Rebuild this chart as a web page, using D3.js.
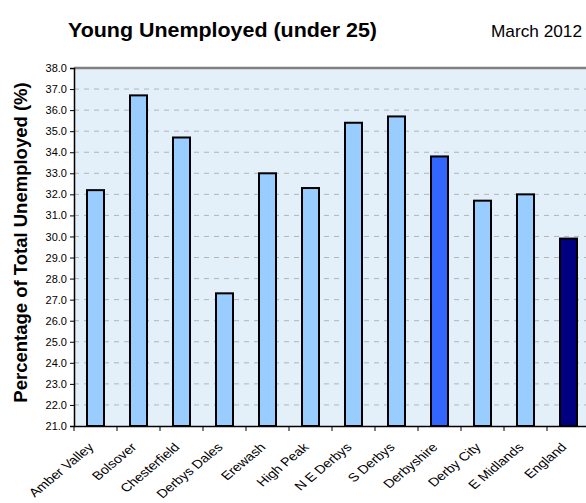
<!DOCTYPE html>
<html>
<head>
<meta charset="utf-8">
<script src="https://cdn.jsdelivr.net/npm/d3@7"></script>
<style>
body { margin: 0; background: #fff; }
svg { font-family: "Liberation Sans", Arial, sans-serif; }
</style>
</head>
<body>
<script>
var categories = ["Amber Valley", "Bolsover", "Chesterfield", "Derbys Dales", "Erewash", "High Peak",
    "N E Derbys", "S Derbys", "Derbyshire", "Derby City", "E Midlands", "England"];
var values = [32.2, 36.7, 34.7, 27.3, 33.0, 32.3, 35.4, 35.7, 33.8, 31.7, 32.0, 29.9];
var barColors = ["#99CCFF", "#99CCFF", "#99CCFF", "#99CCFF", "#99CCFF", "#99CCFF",
    "#99CCFF", "#99CCFF", "#3366FF", "#99CCFF", "#99CCFF", "#000080"];
var yTicks = d3.range(21, 38.5, 1);

var width = 586, height = 503;
var plotLeft = 74, plotRight = 590, plotTop = 68, plotBottom = 426;

var svg = d3.select("body").append("svg")
    .attr("width", width)
    .attr("height", height);

var x = d3.scaleBand().domain(categories).range([plotLeft, plotRight]).padding(0);
var y = d3.scaleLinear().domain([21, 38]).range([plotBottom, plotTop]);

// plot background
svg.append("rect")
    .attr("x", plotLeft).attr("y", plotTop)
    .attr("width", plotRight - plotLeft).attr("height", plotBottom - plotTop)
    .attr("fill", "#E3F0FA");

// dashed gridlines
svg.append("g")
    .selectAll("line")
    .data(yTicks.filter(function(d) { return d > 21 && d < 38; }))
    .enter().append("line")
    .attr("x1", plotLeft).attr("x2", plotRight)
    .attr("y1", function(d) { return y(d); })
    .attr("y2", function(d) { return y(d); })
    .attr("stroke", "#B4B4B4")
    .attr("stroke-width", 1)
    .attr("stroke-dasharray", "5,5");

// top border
svg.append("line")
    .attr("x1", plotLeft).attr("x2", plotRight)
    .attr("y1", plotTop).attr("y2", plotTop)
    .attr("stroke", "#808080").attr("stroke-width", 2.5);

// bars
var barW = 17;
svg.append("g")
    .selectAll("rect")
    .data(values)
    .enter().append("rect")
    .attr("x", function(d, i) { return x(categories[i]) + x.bandwidth() / 2 - barW / 2; })
    .attr("y", function(d) { return y(d); })
    .attr("width", barW)
    .attr("height", function(d) { return y(21) - y(d); })
    .attr("fill", function(d, i) { return barColors[i]; })
    .attr("stroke", "#000")
    .attr("stroke-width", 2);

// y axis
var yAxis = d3.axisLeft(y)
    .tickValues(yTicks)
    .tickSize(4)
    .tickPadding(3)
    .tickFormat(d3.format(".1f"));
var gy = svg.append("g")
    .attr("transform", "translate(" + plotLeft + ",0)")
    .call(yAxis);
gy.select(".domain").attr("stroke", "#000").attr("stroke-width", 1.5);
gy.selectAll("text").attr("font-size", 11).attr("fill", "#000")
    .attr("font-family", "Liberation Sans, Arial");

// x axis
var xAxis = d3.axisBottom(x).tickSize(0).tickFormat("");
var gx = svg.append("g")
    .attr("transform", "translate(0," + plotBottom + ")")
    .call(xAxis);
gx.select(".domain").attr("stroke", "#000").attr("stroke-width", 1.5);

// boundary ticks between categories
gx.selectAll("line.sep")
    .data(categories)
    .enter().append("line")
    .attr("class", "sep")
    .attr("x1", function(d) { return x(d); })
    .attr("x2", function(d) { return x(d); })
    .attr("y1", 0).attr("y2", 5)
    .attr("stroke", "#000").attr("stroke-width", 1);

// rotated category labels (source looks a bit stretched sideways)
svg.append("g")
    .selectAll("text")
    .data(categories)
    .enter().append("text")
    .attr("transform", function(d) {
        return "translate(" + (x(d) + x.bandwidth() / 2 - 1) + "," + (plotBottom + 22) + ") scale(1.2,1) rotate(-45)";
    })
    .attr("text-anchor", "end")
    .attr("font-size", 12)
    .attr("fill", "#000")
    .text(function(d) { return d; });

// titles
svg.append("text")
    .attr("x", 68).attr("y", 37)
    .attr("font-size", 20)
    .attr("font-weight", "bold")
    .attr("textLength", 309)
    .attr("lengthAdjust", "spacingAndGlyphs")
    .text("Young Unemployed (under 25)");

svg.append("text")
    .attr("x", 491).attr("y", 37)
    .attr("font-size", 17)
    .attr("textLength", 91)
    .attr("lengthAdjust", "spacingAndGlyphs")
    .text("March 2012");

svg.append("text")
    .attr("transform", "translate(27," + 242.5 + ") rotate(-90)")
    .attr("text-anchor", "middle")
    .attr("font-size", 18.5)
    .attr("font-weight", "bold")
    .text("Percentage of Total Unemployed (%)");
</script>
</body>
</html>
